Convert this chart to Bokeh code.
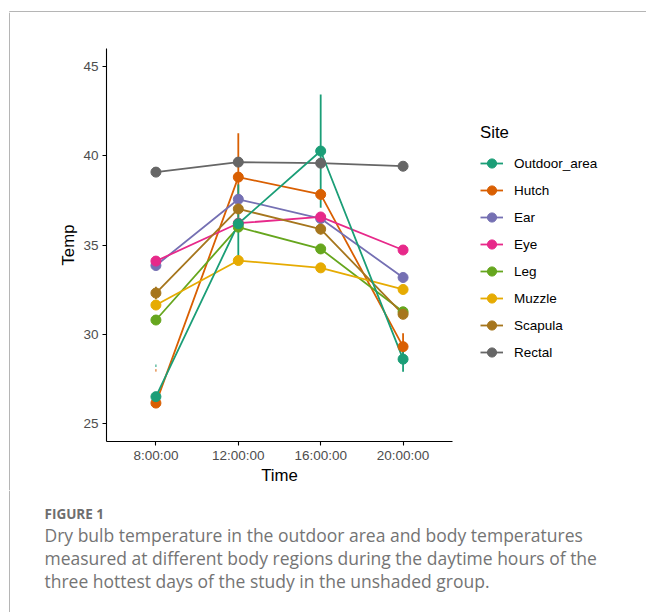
from bokeh.plotting import figure
from bokeh.layouts import row, column
from bokeh.models import (Range1d, FixedTicker, Legend, LegendItem, Label,
                          ColumnDataSource)
from bokeh.embed import file_html
from bokeh.resources import INLINE

# ---------------- data ----------------
times = ["8:00:00", "12:00:00", "16:00:00", "20:00:00"]
sites = ["Outdoor_area", "Hutch", "Ear", "Eye", "Leg", "Muzzle", "Scapula", "Rectal"]
colors = ["#1B9E77", "#D95F02", "#7570B3", "#E7298A", "#66A61E", "#E6AB02", "#A6761D", "#666666"]

outdoor_area = [26.51, 36.19, 40.26, 28.61]
hutch = [26.15, 38.80, 37.83, 29.31]
ear = [33.85, 37.56, 36.48, 33.18]
eye = [34.10, 36.22, 36.57, 34.72]
leg = [30.80, 36.00, 34.78, 31.26]
muzzle = [31.64, 34.13, 33.72, 32.51]
scapula = [32.31, 37.02, 35.89, 31.12]
rectal = [39.08, 39.64, 39.58, 39.41]

outdoor_area_se = [0.0, 2.20, 3.17, 0.70]
hutch_se = [0.0, 2.45, 0.15, 0.75]
ear_se = [0.25, 0.10, 0.10, 0.25]
eye_se = [0.10, 0.10, 0.10, 0.10]
leg_se = [0.25, 0.10, 0.25, 0.25]
muzzle_se = [0.10, 0.25, 0.25, 0.10]
scapula_se = [0.35, 0.20, 0.30, 0.10]
rectal_se = [0.05, 0.05, 0.05, 0.05]

values = [outdoor_area, hutch, ear, eye, leg, muzzle, scapula, rectal]
errors = [outdoor_area_se, hutch_se, ear_se, eye_se, leg_se, muzzle_se, scapula_se, rectal_se]

# two tiny stray marks seen at 8:00:00
stray_sites = ["Outdoor_area", "Hutch"]
stray_time = ["8:00:00", "8:00:00"]
stray_vals = [28.24, 27.98]

y_ticks = [25, 30, 35, 40, 45]
caption_head = "FIGURE 1"
caption_lines = [
    "Dry bulb temperature in the outdoor area and body temperatures",
    "measured at different body regions during the daytime hours of the",
    "three hottest days of the study in the unshaded group.",
]

BORDER = "#B5B5B5"
FULL_W = 646
STRIP_W, TOP_H = 10, 12
P_W = FULL_W - STRIP_W
P_H = 36 + 393 + 49
CAP_H = 122

# ---------------- main chart ----------------
xpos = {t: i + 1 for i, t in enumerate(times)}
xs = [xpos[t] for t in times]

p = figure(frame_width=346, frame_height=393,
           min_border_left=96, min_border_right=P_W - 96 - 346,
           min_border_top=36, min_border_bottom=49,
           x_range=Range1d(0.4, len(times) + 0.6), y_range=Range1d(24, 46),
           output_backend="svg", toolbar_location=None,
           background_fill_color="white", border_fill_color="white")
p.outline_line_color = None
p.grid.visible = False

for ax in (p.xaxis[0], p.yaxis[0]):
    ax.axis_line_color = "black"
    ax.axis_line_width = 1.1
    ax.major_tick_line_color = "black"
    ax.major_tick_line_width = 1.1
    ax.major_tick_in = 0
    ax.major_tick_out = 4
    ax.minor_tick_line_color = None
    ax.major_label_text_font = "Liberation Sans"
    ax.major_label_text_font_size = "13.5px"
    ax.major_label_text_color = "#4D4D4D"
    ax.axis_label_text_font = "Liberation Sans"
    ax.axis_label_text_font_size = "16.8px"
    ax.axis_label_text_font_style = "normal"
    ax.axis_label_text_color = "black"

p.xaxis.ticker = FixedTicker(ticks=xs)
p.xaxis.major_label_overrides = {xpos[t]: t for t in times}
p.xaxis.axis_label = "Time"
p.xaxis.major_label_standoff = 2
p.xaxis.axis_label_standoff = 0
p.yaxis.ticker = FixedTicker(ticks=y_ticks)
p.yaxis.axis_label = "Temp"
p.yaxis.major_label_standoff = 4
p.yaxis.axis_label_standoff = 2

# draw Outdoor_area last (it sits on top in the reference)
order = sites[1:] + sites[:1]
line_r, pt_r = {}, {}
for s in order:
    i = sites.index(s)
    src = ColumnDataSource(dict(x=xs, y=values[i]))
    line_r[s] = p.line("x", "y", source=src, color=colors[i], line_width=1.8)
for s in order:
    i = sites.index(s)
    src = ColumnDataSource(dict(x=xs,
                                lo=[v - e for v, e in zip(values[i], errors[i])],
                                hi=[v + e for v, e in zip(values[i], errors[i])]))
    p.segment(x0="x", y0="lo", x1="x", y1="hi", source=src, color=colors[i],
              line_width=1.8, line_cap="butt")
for s in order:
    i = sites.index(s)
    src = ColumnDataSource(dict(x=xs, y=values[i]))
    pt_r[s] = p.scatter("x", "y", source=src, size=10, color=colors[i])

stray_src = ColumnDataSource(dict(
    x=[xpos[t] for t in stray_time],
    lo=[v - 0.07 for v in stray_vals], hi=[v + 0.07 for v in stray_vals],
    c=[colors[sites.index(s)] for s in stray_sites]))
p.segment(x0="x", y0="lo", x1="x", y1="hi", source=stray_src, color="c", line_width=1)

legend = Legend(items=[LegendItem(label=s, renderers=[line_r[s], pt_r[s]]) for s in sites],
                title="Site", location=(28, 77), padding=0, margin=0, spacing=3,
                glyph_width=23, glyph_height=24, label_height=24, label_standoff=11,
                title_standoff=8, border_line_color=None, background_fill_alpha=0,
                label_text_font="Liberation Sans", label_text_font_size="13.5px",
                label_text_color="black",
                title_text_font="Liberation Sans", title_text_font_size="16.8px",
                title_text_font_style="normal", title_text_color="black")
p.add_layout(legend, "right")


def blank(w, h):
    f = figure(frame_width=w, frame_height=h, min_border=0,
               x_range=Range1d(0, w), y_range=Range1d(h, 0),
               x_axis_type=None, y_axis_type=None,
               output_backend="svg", toolbar_location=None,
               background_fill_color="white", border_fill_color="white")
    f.outline_line_color = None
    f.grid.visible = False
    return f


# panel border: top bar, left strip and caption strip
top = blank(FULL_W, TOP_H)
top.segment(x0=[9, 9], y0=[11, 11], x1=[FULL_W, 9], y1=[11, TOP_H],
            line_color=BORDER, line_width=1)

strip = blank(STRIP_W, P_H)
strip.segment(x0=[9], y0=[0], x1=[9], y1=[P_H], line_color=BORDER, line_width=1)

cap = blank(FULL_W, CAP_H)
cap.segment(x0=[9], y0=[0], x1=[9], y1=[CAP_H], line_color=BORDER, line_width=1)
cap.add_layout(Label(x=44, y=23, text=caption_head,
                     text_font="Open Sans", text_font_size="13.5px", text_font_style="bold",
                     text_color="#6E6E6E", text_baseline="alphabetic"))
for k, line in enumerate(caption_lines):
    cap.add_layout(Label(x=44, y=44 + 23 * k, text=line,
                         text_font="Open Sans", text_font_size="17.5px",
                         text_color="#747474", text_baseline="alphabetic"))

layout = column(row(top), row(column(strip), column(p)), row(cap))
open("out.html", "w").write(file_html(layout, INLINE))
